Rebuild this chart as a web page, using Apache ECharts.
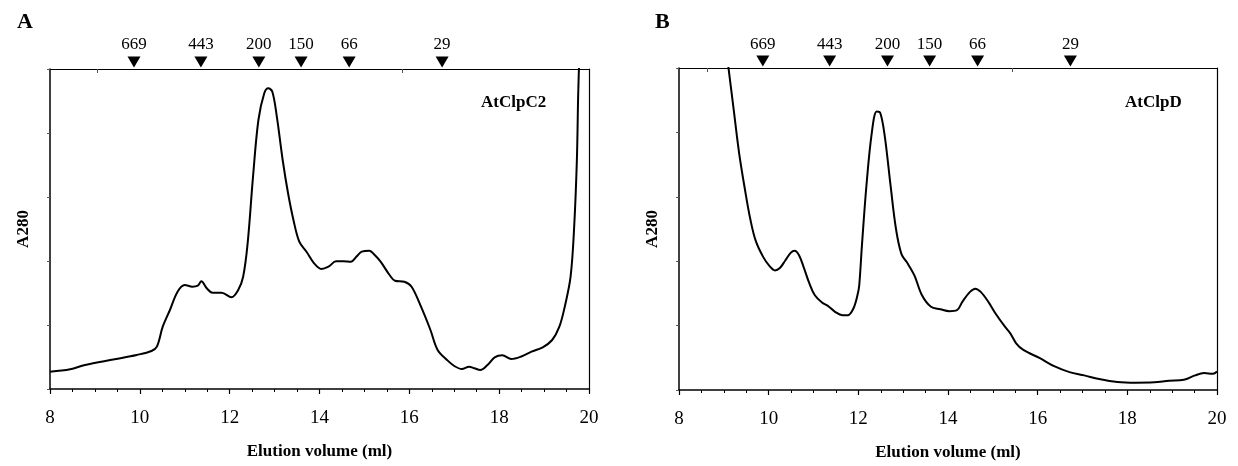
<!DOCTYPE html>
<html>
<head>
<meta charset="utf-8">
<script src="https://cdn.jsdelivr.net/npm/echarts@6/dist/echarts.min.js"></script>
<style>html,body{margin:0;padding:0;background:#fff}#c{width:1238px;height:466px}</style>
</head>
<body>
<div id="c"></div>
<script>
// Elution volume (ml) and A280 (arbitrary units)
const volA = [8.0,8.45,8.78,9.44,9.93,10.26,10.38,10.51,10.67,10.84,11.0,11.17,11.29,11.37,11.49,11.62,11.82,12.04,12.19,12.3,12.4,12.52,12.64,12.77,12.86,12.95,13.05,13.18,13.3,13.42,13.55,13.71,13.88,14.04,14.2,14.37,14.53,14.7,14.82,14.94,15.11,15.23,15.36,15.56,15.68,15.89,16.05,16.26,16.47,16.63,16.84,17.0,17.17,17.33,17.45,17.58,17.74,17.9,18.07,18.27,18.48,18.72,18.97,19.18,19.34,19.46,19.59,19.67,19.73,19.76,19.79];
const absA = [17.3,19.7,24,29.7,34,38,42.3,62.3,79,97.3,104,102.3,103.3,107.7,100.7,96.3,96.3,91.7,99,112.3,145.7,212.3,269,295.7,300.7,297.3,272.3,229,195.7,169,147.3,137.3,125.7,120,122.3,127.7,127.7,127.3,132.3,137.3,138.3,134,127.3,114,108.3,107.3,102.3,82.3,59,39,29,23,20,22.3,20.7,19,24,31.7,33.7,30,32.3,37.3,41.7,49,62.3,82.3,112.3,162.3,229,295.7,340];
const volB = [9.06,9.22,9.34,9.47,9.59,9.71,9.88,10.02,10.14,10.25,10.37,10.49,10.58,10.68,10.78,10.91,11.03,11.19,11.32,11.48,11.65,11.77,11.89,11.98,12.02,12.08,12.18,12.3,12.41,12.49,12.59,12.72,12.84,12.96,13.08,13.25,13.42,13.62,13.83,14.03,14.2,14.32,14.49,14.61,14.73,14.9,15.06,15.27,15.39,15.52,15.68,16.05,16.38,16.71,17.04,17.37,17.78,18.19,18.6,18.93,19.26,19.51,19.71,19.91,20.0];
const absB = [340,282,238.7,202,172,150.3,133.7,124.7,120.3,122.7,130.3,138,140,135.3,123.7,107,95.3,88,84.7,78.7,75.3,75.3,82,95.3,105.3,145.3,205.3,258.7,280.3,278.7,255.3,205.3,162,137,128.7,115.3,95.3,83.7,81.3,79.3,80.3,88.7,98.7,102,98.7,88.7,77,63.7,57,47,40.3,32,23.7,18,14.7,11,8,7.3,7.7,9.3,10.3,14.7,17,16.3,18.7];
// Molecular mass standards (kDa) and their elution volumes
const markerLabels = ['669','443','200','150','66','29'];
const markerVols = [9.87,11.36,12.65,13.59,14.66,16.73];
const xTicks = [8,10,12,14,16,18,20];
const panelNames = ['AtClpC2','AtClpD'];

const serif = 'Liberation Serif, Times New Roman, serif';
const yMaxA = 320, yMaxB = 324;

function pairs(xs, ys){ return xs.map((x,i)=>[x, ys[i]]); }

function xAxisBottom(gi){
  return {
    type:'value', gridIndex:gi, min:xTicks[0], max:xTicks[xTicks.length-1], interval:2, position:'bottom',
    axisLine:{show:true, onZero:false, lineStyle:{color:'#000', width:1.5}},
    axisTick:{show:true, inside:false, length:5, lineStyle:{color:'#000', width:1.2}},
    minorTick:{show:true, splitNumber:4, length:3, lineStyle:{color:'#000', width:1}},
    axisLabel:{show:true, color:'#000', fontFamily:serif, fontSize:19, margin:20},
    splitLine:{show:false},
    name:'Elution volume (ml)', nameLocation:'middle', nameGap:54,
    nameTextStyle:{color:'#000', fontFamily:serif, fontSize:17, fontWeight:'bold'}
  };
}
function xAxisTop(gi, ticks){
  return {
    type:'value', gridIndex:gi, min:8, max:20, position:'top',
    axisLine:{show:true, onZero:false, lineStyle:{color:'#000', width:1.2}},
    axisTick:{show:true, inside:true, length:4, customValues:ticks, lineStyle:{color:'#555', width:1}},
    axisLabel:{show:false}, splitLine:{show:false}
  };
}
function yAxisLeft(gi, max){
  return {
    type:'value', gridIndex:gi, min:0, max:max, interval: max/5,
    axisLine:{show:true, onZero:false, lineStyle:{color:'#000', width:1.5}},
    axisTick:{show:true, inside:false, length:3, lineStyle:{color:'#555', width:1}},
    axisLabel:{show:false}, splitLine:{show:false},
    name:'A280', nameLocation:'middle', nameGap:18, nameRotate:90,
    nameTextStyle:{color:'#000', fontFamily:serif, fontSize:17, fontWeight:'bold'}
  };
}
function yAxisRight(gi, max){
  return {
    type:'value', gridIndex:gi, min:0, max:max, position:'right',
    axisLine:{show:true, onZero:false, lineStyle:{color:'#000', width:1.2}},
    axisTick:{show:false}, axisLabel:{show:false}, splitLine:{show:false}
  };
}
function markerSeries(xi, yi, yTop){
  return {
    type:'scatter', xAxisIndex:xi, yAxisIndex:yi, clip:false,
    symbol:'triangle', symbolRotate:180, symbolSize:[13,11],
    itemStyle:{color:'#000', opacity:1}, silent:true,
    emphasis:{disabled:true},
    label:{show:true, position:'top', distance:3, color:'#000', opacity:1, fontFamily:serif, fontSize:17,
      formatter:p=>markerLabels[p.dataIndex]},
    data: markerVols.map(v=>[v, yTop])
  };
}

const chart = echarts.init(document.getElementById('c'), null, {renderer:'canvas'});
chart.setOption({
  backgroundColor:'#fff',
  animation:false,
  title:[
    {text:'A', left:12, top:6, textStyle:{fontFamily:serif, fontSize:22, fontWeight:'bold', color:'#000'}},
    {text:'B', left:650, top:6, textStyle:{fontFamily:serif, fontSize:22, fontWeight:'bold', color:'#000'}},
    {text:panelNames[0], left:476, top:89, textStyle:{fontFamily:serif, fontSize:17, fontWeight:'bold', color:'#000'}},
    {text:panelNames[1], left:1120, top:89, textStyle:{fontFamily:serif, fontSize:17, fontWeight:'bold', color:'#000'}}
  ],
  grid:[
    {left:50, right:649, top:69, bottom:77, show:false},
    {left:679, right:21, top:68, bottom:74, show:false}
  ],
  xAxis:[ xAxisBottom(0), xAxisTop(0,[9.05,15.84]), xAxisBottom(1), xAxisTop(1,[8.63,15.43]) ],
  yAxis:[ yAxisLeft(0,yMaxA), yAxisRight(0,yMaxA), yAxisLeft(1,yMaxB), yAxisRight(1,yMaxB) ],
  series:[
    {type:'line', xAxisIndex:0, yAxisIndex:0, data:pairs(volA,absA), showSymbol:false, smooth:0.35, clip:true,
     lineStyle:{color:'#000', width:2}},
    {type:'line', xAxisIndex:2, yAxisIndex:2, data:pairs(volB,absB), showSymbol:false, smooth:0.35, clip:true,
     lineStyle:{color:'#000', width:2}},
    markerSeries(0,0,yMaxA+7),
    markerSeries(2,2,yMaxB+7)
  ]
});
</script>
</body>
</html>
